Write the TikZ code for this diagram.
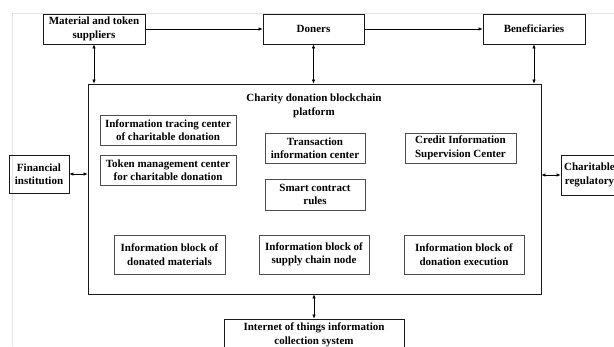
\documentclass[tikz,border=0pt]{standalone}
\usepackage{fontspec}
\setmainfont{Liberation Serif}
\usetikzlibrary{arrows.meta}
\tikzset{
  outerbox/.style={draw=black!90, line width=0.85pt, align=center, inner sep=0pt,
    font=\fontsize{11}{13.5}\selectfont\bfseries},
  innerbox/.style={draw=black!70, line width=0.8pt, align=center, inner sep=0pt,
    font=\fontsize{11}{13.5}\selectfont\bfseries},
  conn/.style={line width=0.6pt, -{Latex[length=4pt,width=3.5pt]}},
  biconn/.style={line width=0.6pt, {Latex[length=4pt,width=3.5pt]}-{Latex[length=4pt,width=3.5pt]}},
  faint/.style={draw=black!10, line width=0.6pt}
}
\begin{document}
\begin{tikzpicture}[x=1pt,y=-1pt]
\useasboundingbox (0,0) rectangle (614,346);
\fill[white] (0,0) rectangle (614,346);
% faint scan edges
\draw[faint] (12,346) -- (12,13) -- (614,13);

% top row
\node[outerbox, minimum width=102pt, minimum height=30pt] (sup) at (94,29) {Material and token\\suppliers};
\node[outerbox, minimum width=101pt, minimum height=30pt] (don) at (313.5,29) {Doners};
\node[outerbox, minimum width=102pt, minimum height=30pt] (ben) at (534,29) {Beneficiaries};

% platform
\node[outerbox, minimum width=453pt, minimum height=210pt] (plat) at (314.5,189) {};
\node[align=center, inner sep=0pt, font=\fontsize{11}{14}\selectfont\bfseries] (title) at (314,106) {Charity donation blockchain\\platform};

% sides
\node[outerbox, minimum width=60pt, minimum height=38pt] (fin) at (39,174) {Financial\\institution};
\node[outerbox, minimum width=57pt, minimum height=40pt] (reg) at (589.5,175) {Charitable\\regulatory};

% inner boxes
\node[innerbox, minimum width=136pt, minimum height=30pt] (trace) at (168,130) {Information tracing center\\of charitable donation};
\node[innerbox, minimum width=136pt, minimum height=30pt] (token) at (168,170) {Token management center\\for charitable donation};
\node[innerbox, minimum width=100pt, minimum height=30pt] (trans) at (315,148) {Transaction\\information center};
\node[innerbox, minimum width=100pt, minimum height=31pt] (smart) at (315,194.5) {Smart contract\\rules};
\node[innerbox, minimum width=111pt, minimum height=30pt] (credit) at (460.5,148) {Credit Information\\Supervision Center};
\node[innerbox, minimum width=111pt, minimum height=39pt] (dmat) at (169.5,254.5) {Information block of\\donated materials};
\node[innerbox, minimum width=110pt, minimum height=39pt] (supply) at (314,254.5) {Information block of\\supply chain node};
\node[innerbox, minimum width=120pt, minimum height=39pt] (exec) at (464,254.5) {Information block of\\donation execution};

% bottom
\node[outerbox, minimum width=180pt, minimum height=32pt] (iot) at (314,335) {Internet of things information\\collection system};

% connectors
\draw[conn] (sup.east) -- (don.west);
\draw[conn] (don.east) -- (ben.west);
\draw[biconn] (sup.south) -- (sup.south |- plat.north);
\draw[biconn] (don.south) -- (don.south |- plat.north);
\draw[biconn] (ben.south) -- (ben.south |- plat.north);
\draw[biconn] (fin.east) -- (fin.east -| plat.west);
\draw[biconn] (reg.west) -- (reg.west -| plat.east);
\draw[biconn] (iot.north) -- (iot.north |- plat.south);
\end{tikzpicture}
\end{document}
